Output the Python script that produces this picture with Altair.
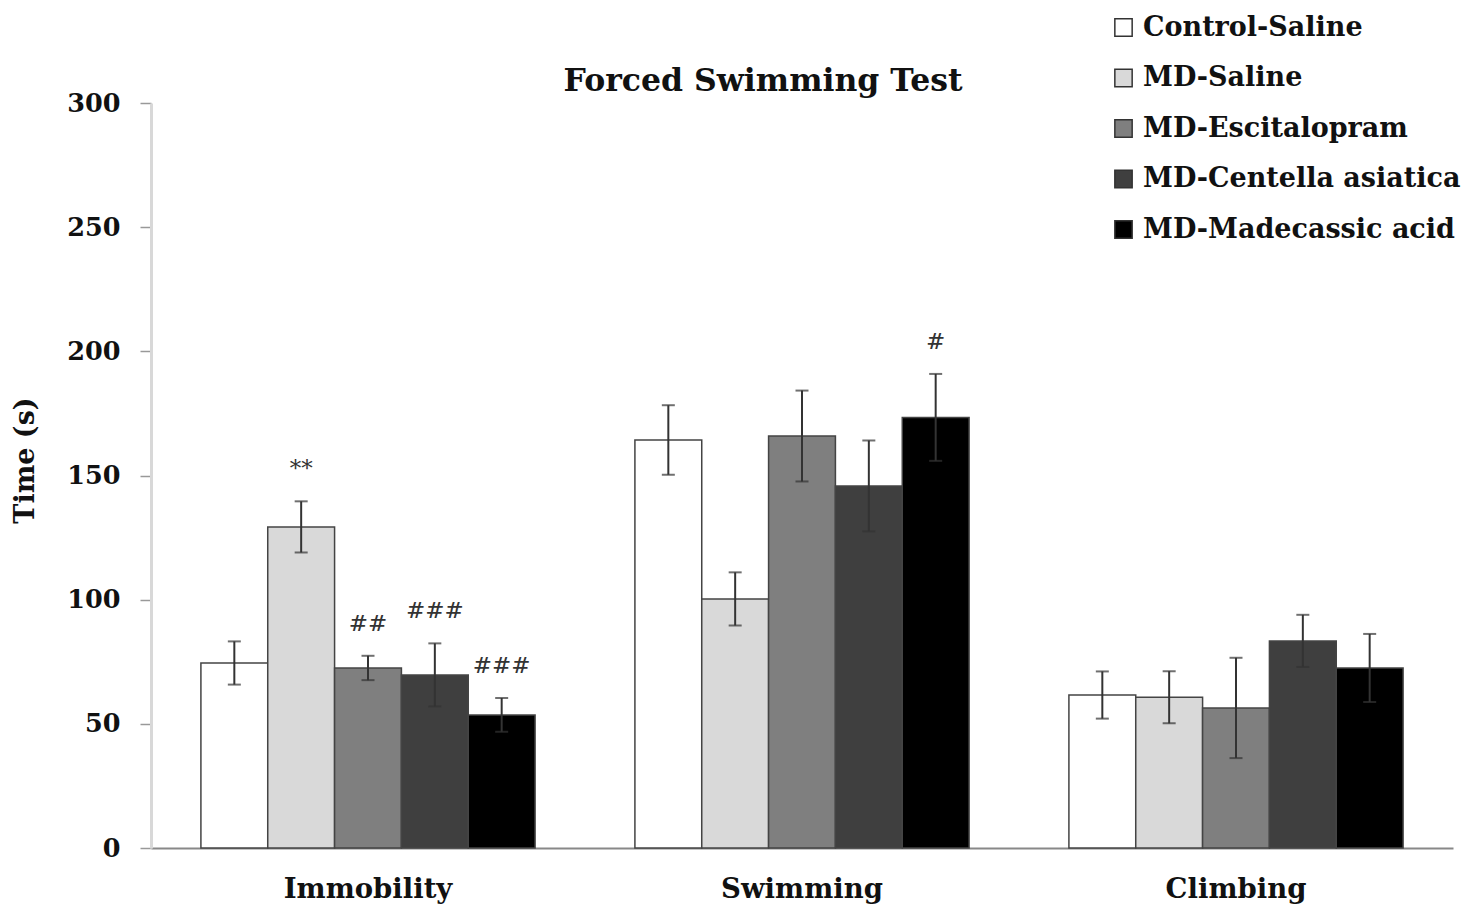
import altair as alt
import pandas as pd

categories = ["Immobility", "Swimming", "Climbing"]
groups = ["Control-Saline", "MD-Saline", "MD-Escitalopram",
          "MD-Centella asiatica", "MD-Madecassic acid"]
fills = ["#ffffff", "#d9d9d9", "#7f7f7f", "#3f3f3f", "#000000"]

immobility_mean = [74.5, 129.3, 72.5, 69.7, 53.6]
immobility_sem = [8.7, 10.3, 4.9, 12.7, 6.8]
swimming_mean = [164.3, 100.3, 165.9, 145.8, 173.4]
swimming_sem = [14.0, 10.7, 18.3, 18.3, 17.5]
climbing_mean = [61.6, 60.7, 56.4, 83.4, 72.5]
climbing_sem = [9.5, 10.5, 20.2, 10.5, 13.7]
immobility_sig = ["", "**", "##", "###", "###"]
swimming_sig = ["", "", "", "", "#"]
climbing_sig = ["", "", "", "", ""]
title_text = ["Forced Swimming Test"]

rows = []
for cat, means, sems, sigs in [
    ("Immobility", immobility_mean, immobility_sem, immobility_sig),
    ("Swimming", swimming_mean, swimming_sem, swimming_sig),
    ("Climbing", climbing_mean, climbing_sem, climbing_sig),
]:
    for g, m, s, sg in zip(groups, means, sems, sigs):
        rows.append({"category": cat, "group": g, "mean": m,
                     "lo": m - s, "hi": m + s, "sig": sg})
df = pd.DataFrame(rows)

FONT = "DejaVu Serif"
TXT = "#111111"

x_enc = alt.X("category:N", sort=categories,
              scale=alt.Scale(paddingInner=0.23, paddingOuter=0.115),
              axis=alt.Axis(title=None, labelFont=FONT, labelFontWeight="bold",
                            labelFontSize=27.5, labelColor=TXT, labelAngle=0,
                            ticks=False, labelPadding=27,
                            domainColor="#888888", domainWidth=2))
xo_enc = alt.XOffset("group:N", sort=groups, scale=alt.Scale(paddingInner=0, paddingOuter=0))

y_scale = alt.Scale(domain=[0, 300])
y_axis = alt.Axis(title="Time (s)", values=[0, 50, 100, 150, 200, 250, 300],
                  grid=False, labelFont=FONT, labelFontWeight="bold",
                  labelFontSize=25.5, labelColor=TXT, labelPadding=20,
                  tickSize=11, tickColor="#999999", tickWidth=1.5,
                  domainColor="#d8d8d8", domainWidth=3,
                  titleFont=FONT, titleFontWeight="bold", titleFontSize=27,
                  titleColor=TXT, titleAngle=270, titleX=-126, titleY=357,
                  titleAlign="center", titleBaseline="middle")

base = alt.Chart(df).encode(x=x_enc, xOffset=xo_enc)

bars = base.mark_bar(stroke="#444444", strokeWidth=1.5).encode(
    y=alt.Y("mean:Q", scale=y_scale, axis=y_axis),
    fill=alt.Fill("group:N", sort=groups,
                  scale=alt.Scale(domain=groups, range=fills),
                  legend=alt.Legend(title=None, orient="none", legendX=959, legendY=-89,
                                    symbolType="square", symbolSize=300,
                                    symbolStrokeColor="#333333", symbolStrokeWidth=1.5,
                                    labelFont=FONT, labelFontWeight="bold",
                                    labelFontSize=27, labelColor=TXT,
                                    labelOffset=6, rowPadding=22.5, labelLimit=400)),
)

rules = base.mark_rule(color="#333333", strokeWidth=2).encode(
    y=alt.Y("lo:Q", scale=y_scale, axis=y_axis), y2="hi:Q")
caps_hi = base.mark_tick(color="#333333", thickness=2, size=13).encode(
    y=alt.Y("hi:Q", scale=y_scale, axis=y_axis))
caps_lo = base.mark_tick(color="#333333", thickness=2, size=13).encode(
    y=alt.Y("lo:Q", scale=y_scale, axis=y_axis))
sig = base.mark_text(font=FONT, fontSize=23, color="#333333", dy=-32,
                     baseline="middle").encode(
    y=alt.Y("hi:Q", scale=y_scale, axis=y_axis), text="sig:N")

title = alt.Chart(pd.DataFrame({"t": title_text})).mark_text(
    font=FONT, fontWeight="bold", fontSize=31.5, color=TXT,
    align="center", baseline="middle").encode(
    x=alt.value(612), y=alt.value(-21), text="t:N")

chart = alt.layer(bars, rules, caps_hi, caps_lo, sig, title).properties(
    width=1302, height=745,
    autosize=alt.AutoSizeParams(type="none"),
    padding={"left": 151, "top": 103, "right": 28, "bottom": 61},
    background="white",
).configure_view(stroke=None)

chart.save("out.html", embed_options={"renderer": "svg", "actions": False})
